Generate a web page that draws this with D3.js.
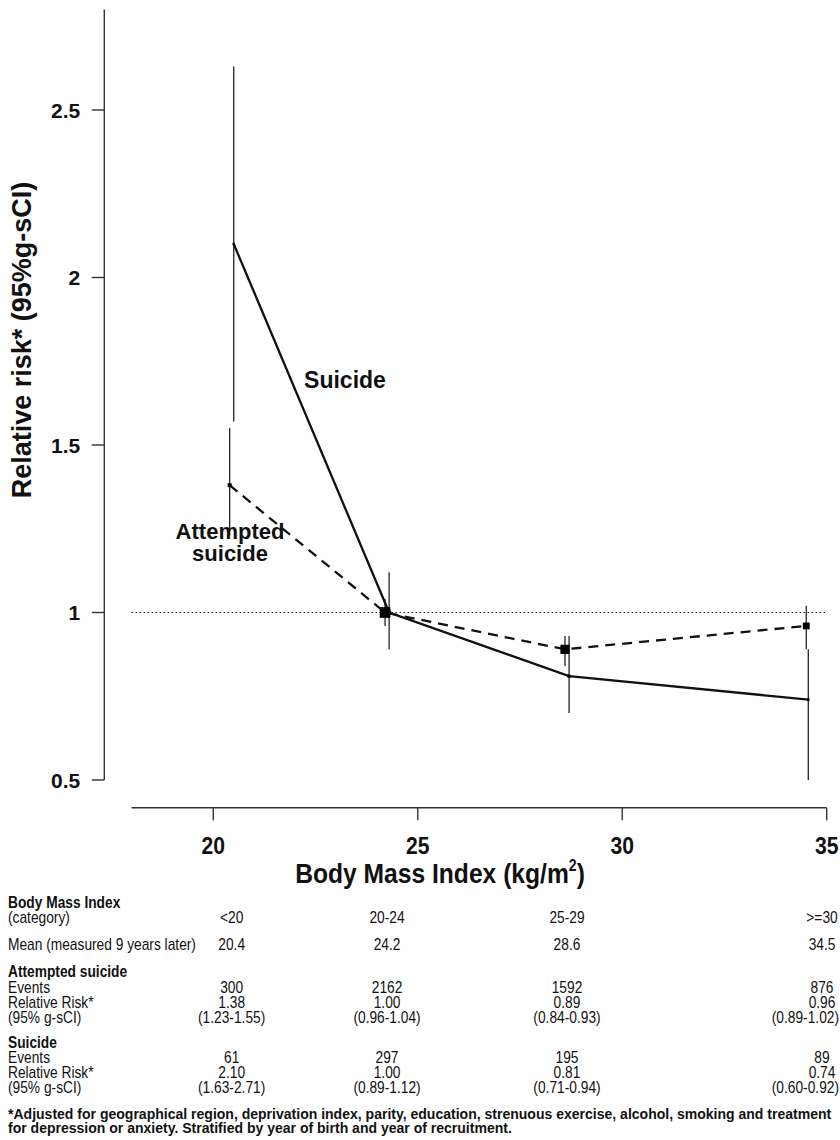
<!DOCTYPE html>
<html><head><meta charset="utf-8">
<script src="https://cdn.jsdelivr.net/npm/d3@7/dist/d3.min.js"></script>
<style>
body{margin:0;background:#fff;}
svg{display:block;}
text{font-family:'Liberation Sans',Arial,sans-serif;}
</style></head>
<body>
<script>
// ---- data ----
const categories = ["<20", "20-24", "25-29", ">=30"];
const meanBMI = [20.4, 24.2, 28.6, 34.5];
const suicideX = [20.5, 24.3, 28.7, 34.55];          // plotted positions
const attemptedEvents = [300, 2162, 1592, 876];
const attemptedRR = [1.38, 1.00, 0.89, 0.96];
const attemptedLo = [1.23, 0.96, 0.84, 0.89];
const attemptedHi = [1.55, 1.04, 0.93, 1.02];
const attemptedRRText = ["1.38", "1.00", "0.89", "0.96"];
const attemptedCIText = ["(1.23-1.55)", "(0.96-1.04)", "(0.84-0.93)", "(0.89-1.02)"];
const suicideEvents = [61, 297, 195, 89];
const suicideRR = [2.10, 1.00, 0.81, 0.74];
const suicideLo = [1.57, 0.89, 0.70, 0.50];            // plotted bars
const suicideHi = [2.63, 1.12, 0.93, 0.89];
const suicideRRText = ["2.10", "1.00", "0.81", "0.74"];
const suicideCIText = ["(1.63-2.71)", "(0.89-1.12)", "(0.71-0.94)", "(0.60-0.92)"];
const xTicks = [20, 25, 30, 35];
const yTicks = [0.5, 1, 1.5, 2, 2.5];

const W = 840, H = 1140;
const svg = d3.select("body").append("svg").attr("width", W).attr("height", H);

const x = d3.scaleLinear().domain([20, 35]).range([213.3, 826.7]);
const y = d3.scaleLinear().domain([0.5, 2.5]).range([780, 110]);
const msize = d3.scaleSqrt().domain([0, 2162]).range([0, 10.7]);
const axisCol = "#333";

// helper: condensed text (scaled horizontally about its anchor)
function ntext(parent, tx, ty, txt, opts) {
  opts = opts || {};
  return parent.append("text")
    .attr("transform", `translate(${tx},${ty}) scale(${opts.sx || 0.86},1)`)
    .attr("text-anchor", opts.anchor || "start")
    .attr("font-size", opts.size || 16)
    .attr("font-weight", opts.bold ? "bold" : "normal")
    .attr("fill", "#111")
    .text(txt);
}

// y axis
const gy = svg.append("g").attr("transform", `translate(${104.3},0)`);
gy.append("line").attr("x1", 0).attr("x2", 0).attr("y1", y(2.8)).attr("y2", y(0.5))
  .attr("stroke", axisCol).attr("stroke-width", 1.4);
gy.selectAll("line.t").data(yTicks).join("line").attr("class", "t")
  .attr("x1", -12.5).attr("x2", 0).attr("y1", d => y(d)).attr("y2", d => y(d))
  .attr("stroke", axisCol).attr("stroke-width", 1.4);
gy.selectAll("text").data(yTicks).join("text")
  .attr("x", -24).attr("y", d => y(d)).attr("dy", "0.36em").attr("text-anchor", "end")
  .attr("font-size", 21).attr("font-weight", "bold").attr("fill", "#111").text(d => d);

// x axis
const gx = svg.append("g").attr("transform", `translate(0,${807.7})`);
gx.append("line").attr("x1", x(18)).attr("x2", x(35)).attr("y1", 0).attr("y2", 0)
  .attr("stroke", axisCol).attr("stroke-width", 1.4);
gx.selectAll("line.t").data(xTicks).join("line").attr("class", "t")
  .attr("x1", d => x(d)).attr("x2", d => x(d)).attr("y1", 0).attr("y2", 12.5)
  .attr("stroke", axisCol).attr("stroke-width", 1.4);
xTicks.forEach(t => ntext(gx, x(t), 46, t, {anchor: "middle", size: 24, bold: true, sx: 0.88}));

// axis titles
const xt = ntext(svg, 440, 883, "", {anchor: "middle", size: 28, bold: true, sx: 0.88});
xt.append("tspan").text("Body Mass Index (kg/m");
xt.append("tspan").attr("font-size", 16).attr("dy", -12).text("2");
xt.append("tspan").attr("dy", 12).text(")");

svg.append("text")
  .attr("transform", `translate(31,${340}) rotate(-90)`)
  .attr("text-anchor", "middle").attr("font-size", 27).attr("font-weight", "bold").attr("fill", "#111")
  .text("Relative risk* (95%g-sCI)");

// reference line at 1
svg.append("line").attr("x1", x(18)).attr("x2", x(35)).attr("y1", y(1)).attr("y2", y(1))
  .attr("stroke", "#222").attr("stroke-width", 1.2).attr("stroke-dasharray", "1.5,2.5");

// error bars
const ciCol = "#222";
svg.append("g").selectAll("line").data(meanBMI).join("line")
  .attr("x1", (d) => x(d)).attr("x2", d => x(d))
  .attr("y1", (d, i) => y(attemptedLo[i])).attr("y2", (d, i) => y(attemptedHi[i]))
  .attr("stroke", ciCol).attr("stroke-width", 1.3);
svg.append("g").selectAll("line").data(suicideX).join("line")
  .attr("x1", (d) => x(d)).attr("x2", d => x(d))
  .attr("y1", (d, i) => y(suicideLo[i])).attr("y2", (d, i) => y(suicideHi[i]))
  .attr("stroke", ciCol).attr("stroke-width", 1.3);

// lines
const line = d3.line();
svg.append("path")
  .attr("d", line(meanBMI.map((d, i) => [x(d), y(attemptedRR[i])])))
  .attr("fill", "none").attr("stroke", "#111").attr("stroke-width", 2.3).attr("stroke-dasharray", "10,7");
svg.append("path")
  .attr("d", line(suicideX.map((d, i) => [x(d), y(suicideRR[i])])))
  .attr("fill", "none").attr("stroke", "#111").attr("stroke-width", 2.3);

// markers
svg.append("g").selectAll("rect").data(meanBMI).join("rect")
  .attr("x", (d, i) => x(d) - msize(attemptedEvents[i]) / 2)
  .attr("y", (d, i) => y(attemptedRR[i]) - msize(attemptedEvents[i]) / 2)
  .attr("width", (d, i) => msize(attemptedEvents[i]))
  .attr("height", (d, i) => msize(attemptedEvents[i])).attr("fill", "#000");
svg.append("g").selectAll("rect").data(suicideX).join("rect")
  .attr("x", (d, i) => x(d) - Math.max(2.5, msize(suicideEvents[i])) / 2)
  .attr("y", (d, i) => y(suicideRR[i]) - Math.max(2.5, msize(suicideEvents[i])) / 2)
  .attr("width", (d, i) => Math.max(2.5, msize(suicideEvents[i])))
  .attr("height", (d, i) => Math.max(2.5, msize(suicideEvents[i]))).attr("fill", "#000");

// annotations
svg.append("text").attr("x", 345).attr("y", 388).attr("text-anchor", "middle")
  .attr("font-size", 23).attr("font-weight", "bold").attr("fill", "#111").text("Suicide");
const at = svg.append("text").attr("text-anchor", "middle")
  .attr("font-size", 22).attr("font-weight", "bold").attr("fill", "#111");
at.append("tspan").attr("x", 230).attr("y", 539).text("Attempted");
at.append("tspan").attr("x", 230).attr("y", 561).text("suicide");

// table
const tbl = svg.append("g");
const colX = (i) => i < 3 ? x(meanBMI[i]) + 2 : 822;
const TS = 16, SX = 0.86;
function label(txt, yy, bold) { ntext(tbl, 8, yy, txt, {size: TS, bold: bold, sx: SX}); }
function row(vals, yy, isCI) {
  vals.forEach((d, i) => {
    const last = isCI && i === 3;
    ntext(tbl, last ? 839 : colX(i), yy, d, {size: TS, sx: SX, anchor: last ? "end" : "middle"});
  });
}
label("Body Mass Index", 908, true);
label("(category)", 923, false); row(categories, 923);
label("Mean (measured 9 years later)", 950, false); row(meanBMI.map(d => d.toFixed(1)), 950);
label("Attempted suicide", 977, true);
label("Events", 993, false); row(attemptedEvents, 993);
label("Relative Risk*", 1008, false); row(attemptedRRText, 1008);
label("(95% g-sCI)", 1023, false); row(attemptedCIText, 1023, true);
label("Suicide", 1048, true);
label("Events", 1063, false); row(suicideEvents, 1063);
label("Relative Risk*", 1078, false); row(suicideRRText, 1078);
label("(95% g-sCI)", 1093, false); row(suicideCIText, 1093, true);

ntext(svg, 8, 1119, "*Adjusted for geographical region, deprivation index, parity, education, strenuous exercise, alcohol, smoking and treatment",
  {size: 15, bold: true, sx: 0.935});
ntext(svg, 8, 1133, "for depression or anxiety. Stratified by year of birth and year of recruitment.",
  {size: 15, bold: true, sx: 0.935});
</script>
</body></html>
